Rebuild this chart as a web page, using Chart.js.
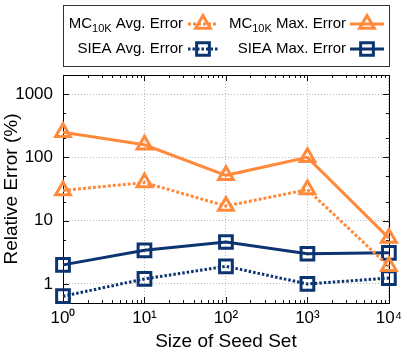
<!DOCTYPE html>
<html>
<head>
<meta charset="utf-8">
<script src="https://cdn.jsdelivr.net/npm/chart.js@4/dist/chart.umd.min.js"></script>
<style>
html,body{margin:0;padding:0;background:#fff;}
#wrap{position:relative;width:407px;height:360px;}
</style>
</head>
<body>
<div id="wrap"><canvas id="c" width="407" height="360"></canvas></div>
<script>
// ---- data ----
const seedSizes = [1, 10, 100, 1000, 10000];
const mcAvgError = [30, 40, 17, 31, 1.9];
const mcMaxError = [250, 158, 52, 100, 5.3];
const sieaAvgError = [0.64, 1.2, 1.9, 1.0, 1.24];
const sieaMaxError = [2.0, 3.4, 4.6, 3.0, 3.1];
const xTickValues = [1, 10, 100, 1000, 10000];
const xTickLabels = ['10\u2070', '10\u00b9', '10\u00b2', '10\u00b3', '10\u2074'];
const yTickValues = [1, 10, 100, 1000];
const yTickLabels = ['1', '10', '100', '1000'];
const seriesNames = [
  {main: 'MC', sub: '10K', rest: ' Avg. Error'},
  {main: 'MC', sub: '10K', rest: ' Max. Error'},
  {main: 'SIEA Avg. Error', sub: '', rest: ''},
  {main: 'SIEA Max. Error', sub: '', rest: ''}
];

const ORANGE = '#ff8a3c';
const NAVY = '#0c3470';
const FONT = '"Liberation Sans", Arial, Helvetica, sans-serif';

function pts(vals){ return seedSizes.map((x,i)=>({x:x, y:vals[i]})); }

const datasets = [
  {label:'MC10K Avg. Error', data:pts(mcAvgError), borderColor:ORANGE, borderDash:[3,2], pointStyle:'triangle', pointRadius:8.5},
  {label:'MC10K Max. Error', data:pts(mcMaxError), borderColor:ORANGE, borderDash:[], pointStyle:'triangle', pointRadius:8.5},
  {label:'SIEA Avg. Error', data:pts(sieaAvgError), borderColor:NAVY, borderDash:[2.5,2], pointStyle:'rect', pointRadius:9},
  {label:'SIEA Max. Error', data:pts(sieaMaxError), borderColor:NAVY, borderDash:[], pointStyle:'rect', pointRadius:9}
].map(d=>Object.assign({
  borderWidth:3, pointBorderWidth:3, pointBackgroundColor:'rgba(0,0,0,0)',
  pointBorderColor:d.borderColor, pointHoverRadius:d.pointRadius, tension:0, clip:false, fill:false
}, d));

function drawMarker(ctx, style, r, x, y){
  ctx.beginPath();
  if(style==='triangle'){
    let rad = 0;
    ctx.moveTo(x + Math.sin(rad)*r, y - Math.cos(rad)*r);
    rad += 2*Math.PI/3;
    ctx.lineTo(x + Math.sin(rad)*r, y - Math.cos(rad)*r);
    rad += 2*Math.PI/3;
    ctx.lineTo(x + Math.sin(rad)*r, y - Math.cos(rad)*r);
    ctx.closePath();
  } else {
    const s = Math.SQRT1_2*r;
    ctx.rect(x-s, y-s, 2*s, 2*s);
  }
  ctx.stroke();
}

const framePlugin = {
  id:'frame',
  beforeDatasetsDraw(chart){
    const {ctx, chartArea:a, scales} = chart;
    ctx.save();
    ctx.strokeStyle = '#111';
    ctx.lineWidth = 1;
    // inner tick marks on all four sides
    const xs = scales.x, ys = scales.y;
    ctx.beginPath();
    for(let d=1; d<=10000; d*=10){
      for(let m=1; m<=9; m++){
        const v = d*m;
        if(v>10000) break;
        const px = Math.round(xs.getPixelForValue(v))+0.5;
        const L = m===1 ? 6 : 3;
        ctx.moveTo(px, a.bottom); ctx.lineTo(px, a.bottom-L);
        ctx.moveTo(px, a.top); ctx.lineTo(px, a.top+L);
      }
    }
    const yMinor = [0.5,1,2,5,10,20,50,100,200,500,1000,2000];
    yMinor.forEach(v=>{
      const py = Math.round(ys.getPixelForValue(v))+0.5;
      const L = yTickValues.includes(v) ? 6 : 3;
      ctx.moveTo(a.left, py); ctx.lineTo(a.left+L, py);
      ctx.moveTo(a.right, py); ctx.lineTo(a.right-L, py);
    });
    ctx.stroke();
    ctx.strokeStyle = '#000';
    ctx.strokeRect(Math.round(a.left)+0.5, Math.round(a.top)+0.5, Math.round(a.right-a.left), Math.round(a.bottom-a.top));
    ctx.restore();
  },
  afterDraw(chart){
    const ctx = chart.ctx;
    ctx.save();
    // legend box
    ctx.strokeStyle = '#333';
    ctx.lineWidth = 1;
    ctx.strokeRect(63.5, 5.5, 326, 61);
    const cols = [{textRight:183, s0:188, s1:218}, {textRight:346, s0:350, s1:384}];
    const rows = [24, 49];
    const order = [[0,0,0],[1,0,1],[2,1,0],[3,1,1]]; // dataset, row, col
    order.forEach(([di,ri,ci])=>{
      const ds = chart.data.datasets[di];
      const c = cols[ci], y = rows[ri];
      const nm = seriesNames[di];
      ctx.fillStyle = '#000';
      ctx.textBaseline = 'middle';
      ctx.textAlign = 'left';
      const mainF = '15px ' + FONT, subF = '11px ' + FONT;
      ctx.font = mainF; const wMain = ctx.measureText(nm.main).width;
      const wRest = ctx.measureText(nm.rest).width;
      ctx.font = subF; const wSub = nm.sub ? ctx.measureText(nm.sub).width : 0;
      let x = c.textRight - (wMain + wSub + wRest);
      ctx.font = mainF; ctx.fillText(nm.main, x, y); x += wMain;
      if(nm.sub){ ctx.font = subF; ctx.fillText(nm.sub, x, y+5); x += wSub; }
      ctx.font = mainF; ctx.fillText(nm.rest, x, y);
      // sample
      ctx.strokeStyle = ds.borderColor;
      ctx.lineWidth = ds.borderWidth;
      ctx.setLineDash(ds.borderDash);
      ctx.beginPath(); ctx.moveTo(c.s0, y); ctx.lineTo(c.s1, y); ctx.stroke();
      ctx.setLineDash([]);
      ctx.lineWidth = ds.pointBorderWidth;
      drawMarker(ctx, ds.pointStyle, ds.pointRadius, (c.s0+c.s1)/2, y);
    });
    ctx.restore();
  }
};

new Chart(document.getElementById('c'), {
  type:'line',
  data:{datasets:datasets},
  plugins:[framePlugin],
  options:{
    responsive:false, animation:false, devicePixelRatio:1,
    layout:{padding:{top:75, right:18, left:0, bottom:0}},
    plugins:{legend:{display:false}, tooltip:{enabled:false}},
    scales:{
      x:{
        type:'logarithmic', min:1, max:10000,
        afterBuildTicks(s){ s.ticks = xTickValues.map(v=>({value:v})); },
        afterFit(s){ s.height = 57; },
        ticks:{ autoSkip:false, maxRotation:0, padding:5, color:'#000', font:{family:FONT, size:17},
          callback:(v)=>{ const i = xTickValues.indexOf(v); return i>=0 ? xTickLabels[i] : ''; } },
        grid:{ color:'#bbb', lineWidth:1, drawTicks:false },
        border:{ display:false, dash:[1,2] },
        title:{ display:true, text:'Size of Seed Set', color:'#000', font:{family:FONT, size:19}, padding:{top:0, bottom:7} }
      },
      y:{
        type:'logarithmic', min:0.5, max:2000,
        afterBuildTicks(s){ s.ticks = yTickValues.map(v=>({value:v})); },
        afterFit(s){ s.width = 63; },
        ticks:{ autoSkip:false, padding:10, color:'#000', font:{family:FONT, size:17},
          callback:(v)=>{ const i = yTickValues.indexOf(v); return i>=0 ? yTickLabels[i] : ''; } },
        grid:{ color:'#bbb', lineWidth:1, drawTicks:false },
        border:{ display:false, dash:[1,2] },
        title:{ display:true, text:'Relative Error (%)', color:'#000', font:{family:FONT, size:19}, padding:{top:0, bottom:0} }
      }
    }
  }
});
</script>
</body>
</html>
